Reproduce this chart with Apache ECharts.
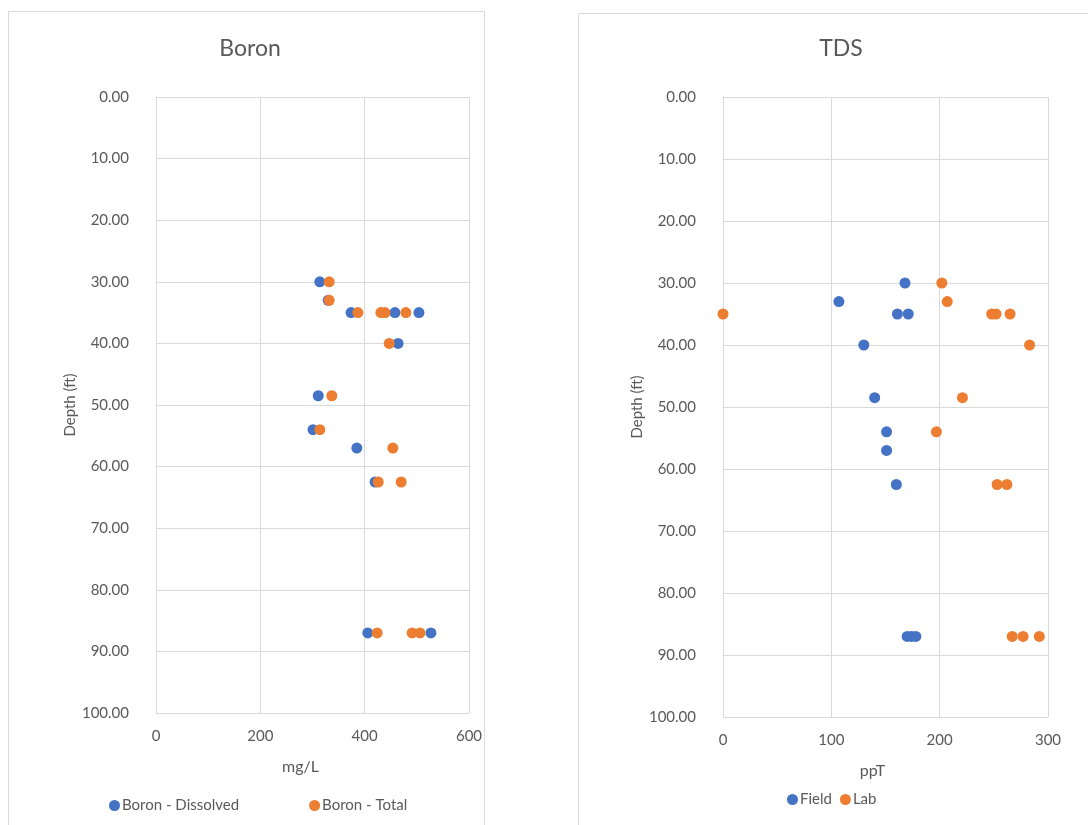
<!DOCTYPE html>
<html>
<head>
<meta charset="utf-8">
<script src="https://cdn.jsdelivr.net/npm/echarts@6/dist/echarts.min.js"></script>
<style>
html,body{margin:0;padding:0;background:#fff;}
#chart{width:1088px;height:825px;}
</style>
</head>
<body>
<div id="chart"></div>
<script>
// ---- Data ----
const depthTicks = [0, 10, 20, 30, 40, 50, 60, 70, 80, 90, 100];
const boronXTicks = [0, 200, 400, 600];
const tdsXTicks = [0, 100, 200, 300];

const boronDissolvedVal   = [314, 330, 374, 458, 504, 464, 311, 301, 385, 420, 406, 527];
const boronDissolvedDepth = [30,  33,  35,  35,  35,  40,  48.5, 54, 57, 62.5, 87, 87];

const boronTotalVal   = [332, 332, 387, 431, 439, 479, 447, 337, 314, 454, 426, 470, 424, 491, 506];
const boronTotalDepth = [30,  33,  35,  35,  35,  35,  40,  48.5, 54, 57, 62.5, 62.5, 87, 87, 87];

const fieldVal   = [168, 107, 161, 171, 130, 140, 151, 151, 160, 170, 174, 178];
const fieldDepth = [30,  33,  35,  35,  40,  48.5, 54, 57, 62.5, 87, 87, 87];

const labVal   = [202, 207, 0,  248, 252, 265, 283, 221, 197, 253, 262, 267, 277, 292];
const labDepth = [30,  33,  35, 35,  35,  35,  40,  48.5, 54, 62.5, 62.5, 87, 87, 87];

const pairs = (xs, ys) => xs.map((v, i) => [v, ys[i]]);

// ---- Styles ----
const FONT = 'Lato';
const TXT = '#595959';
const GRIDC = '#d9d9d9';
const BLUE = '#4472C4';
const ORANGE = '#ED7D31';

function yAxis(gridIndex, gap) {
  return {
    type: 'value', gridIndex, inverse: true, min: 0, max: 100, interval: 10,
    name: 'Depth (ft)', nameLocation: 'middle', nameGap: gap, nameRotate: 90,
    nameTextStyle: { fontFamily: FONT, fontSize: 15, color: TXT },
    axisLine: { show: true, lineStyle: { color: GRIDC } },
    axisTick: { show: false },
    axisLabel: { fontFamily: FONT, fontSize: 15, color: TXT, margin: 27,
      formatter: v => v.toFixed(2) },
    splitLine: { show: true, lineStyle: { color: GRIDC, width: 1 } }
  };
}
function xAxis(gridIndex, max, interval, name, shift, gap) {
  return {
    type: 'value', gridIndex, min: 0, max, interval, position: 'bottom',
    name, nameLocation: 'middle', nameGap: gap,
    nameTextStyle: { fontFamily: FONT, fontSize: 16, color: TXT, padding: [0, shift, 0, 0] },
    axisLine: { show: true, lineStyle: { color: GRIDC } },
    axisTick: { show: false },
    axisLabel: { fontFamily: FONT, fontSize: 15, color: TXT, margin: 16 },
    splitLine: { show: true, lineStyle: { color: GRIDC, width: 1 } }
  };
}
function sc(name, data, color, idx) {
  return {
    type: 'scatter', name, data, xAxisIndex: idx, yAxisIndex: idx,
    symbol: 'circle', symbolSize: 11,
    itemStyle: { color, opacity: 1 }, emphasis: { disabled: true }
  };
}

const chart = echarts.init(document.getElementById('chart'), null, { renderer: 'canvas' });
chart.setOption({
  backgroundColor: '#ffffff',
  animation: false,
  graphic: [
    { type: 'rect', shape: { x: 8.5, y: 11.5, width: 476, height: 840 },
      style: { fill: 'none', stroke: GRIDC, lineWidth: 1 }, z: -10 },
    { type: 'rect', shape: { x: 578.5, y: 13.5, width: 540, height: 840 },
      style: { fill: 'none', stroke: GRIDC, lineWidth: 1 }, z: -10 }
  ],
  title: [
    { text: 'Boron', left: 245, top: 32, textAlign: 'center',
      textStyle: { fontFamily: FONT, fontSize: 23, fontWeight: 'normal', color: TXT } },
    { text: 'TDS', left: 836, top: 32, textAlign: 'center',
      textStyle: { fontFamily: FONT, fontSize: 23, fontWeight: 'normal', color: TXT } }
  ],
  legend: [
    { data: ['Boron - Dissolved', 'Boron - Total'], left: 104, top: 793, itemGap: 70,
      icon: 'circle', itemWidth: 11, itemHeight: 11, itemStyle: { opacity: 1 },
      textStyle: { fontFamily: FONT, fontSize: 15, color: TXT, padding: [0, 0, 0, -3] } },
    { data: ['Field', 'Lab'], left: 782, top: 787, itemGap: 8,
      icon: 'circle', itemWidth: 11, itemHeight: 11,
      textStyle: { fontFamily: FONT, fontSize: 15, color: TXT, padding: [0, 0, 0, -3] } }
  ],
  grid: [
    { left: 156, top: 97, width: 313, height: 616 },
    { left: 723, top: 97, width: 325, height: 620 }
  ],
  xAxis: [
    xAxis(0, 600, 200, 'mg/L', 24, 46),
    xAxis(1, 300, 100, 'ppT', 26, 46)
  ],
  yAxis: [yAxis(0, 78), yAxis(1, 77)],
  series: [
    sc('Boron - Dissolved', pairs(boronDissolvedVal, boronDissolvedDepth), BLUE, 0),
    sc('Boron - Total', pairs(boronTotalVal, boronTotalDepth), ORANGE, 0),
    sc('Field', pairs(fieldVal, fieldDepth), BLUE, 1),
    sc('Lab', pairs(labVal, labDepth), ORANGE, 1)
  ]
});
</script>
</body>
</html>
